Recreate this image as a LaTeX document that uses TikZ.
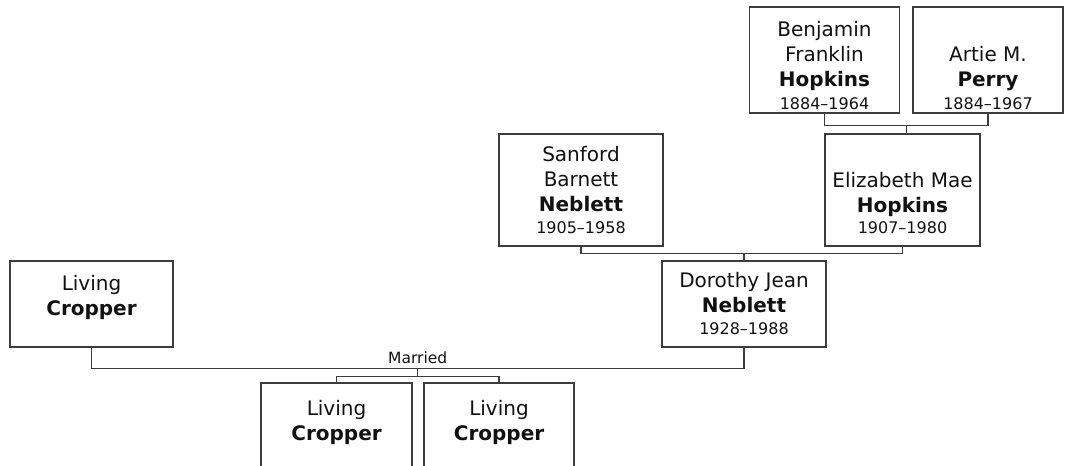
\documentclass[tikz,border=0pt]{standalone}
\usepackage{fontspec}
\setmainfont{DejaVu Sans}
\usetikzlibrary{positioning, calc}
\definecolor{BoxLine}{HTML}{3C3C3C}
\definecolor{NameText}{HTML}{111111}

\tikzset{
  person/.style={draw=BoxLine, line width=1.3pt, rectangle, align=center, inner sep=0pt,
    font=\fontsize{20}{25}\selectfont, text=NameText},
  link/.style={draw=BoxLine, line width=1.3pt},
}
\newcommand{\yrs}[1]{{\fontsize{16}{18}\selectfont #1}}
\newcommand{\toppad}[1]{\rule{0pt}{#1pt}}
\newcommand{\botpad}[1]{\rule[-#1pt]{0pt}{#1pt}}

\begin{document}
\begin{tikzpicture}[x=1pt, y=-1pt]
  \useasboundingbox (0,0) rectangle (1066,466);

  % grandparents
  \node[person, minimum width=150, minimum height=106] (bfh) at (824.5,60) {\toppad{27}Benjamin\\Franklin\\\textbf{Hopkins}\\[-2pt]\yrs{1884--1964}};
  \node[person, minimum width=150, minimum height=106] (amp) at (988,60) {\toppad{52}Artie M.\\\textbf{Perry}\\[-2pt]\yrs{1884--1967}};

  % parents
  \node[person, minimum width=164, minimum height=112] (sbn) at (581,190) {Sanford\\Barnett\\\textbf{Neblett}\\[-3pt]\yrs{1905--1958}};
  \node[person, minimum width=155, minimum height=112] (emh) at (902.5,190) {\toppad{42}Elizabeth Mae\\\textbf{Hopkins}\\[-4pt]\yrs{1907--1980}};

  % couple
  \node[person, minimum width=164, minimum height=86] (djn) at (744,304) {Dorothy Jean\\\textbf{Neblett}\\[-3pt]\yrs{1928--1988}};
  \node[person, minimum width=163, minimum height=86] (lc) at (91.5,304) {Living\\\textbf{Cropper}\botpad{18}};

  % children
  \node[person, minimum width=151, minimum height=86] (kid1) at (336.5,426) {Living\\\textbf{Cropper}\botpad{12}};
  \node[person, minimum width=150, minimum height=86] (kid2) at (499,426) {Living\\\textbf{Cropper}\botpad{12}};

  % connectors
  \draw[link] (bfh.south) -- ++(0,12) coordinate (bfhd) -| (amp.south);
  \coordinate (bam) at ($(bfhd)!0.5!(bfhd -| amp.south)$);
  \draw[link] (bam) -- (bam |- emh.north);

  \draw[link] (sbn.south) -- ++(0,7) coordinate (sbnd) -| (emh.south);
  \draw[link] (djn.north) -- (djn.north |- sbnd);

  \draw[link] (lc.south) -- ++(0,21) coordinate (lcd) -| (djn.south);
  \coordinate (mar) at ($(lcd)!0.5!(lcd -| djn.south)$);
  \node[font=\fontsize{15.5}{17}\selectfont, text=NameText, anchor=base] (married) at ($(mar)+(0,-5)$) {Married};
  \draw[link] (mar) -- ++(0,8) coordinate (kidbar);
  \draw[link] (kid1.north) |- (kidbar) -| (kid2.north);
\end{tikzpicture}
\end{document}
